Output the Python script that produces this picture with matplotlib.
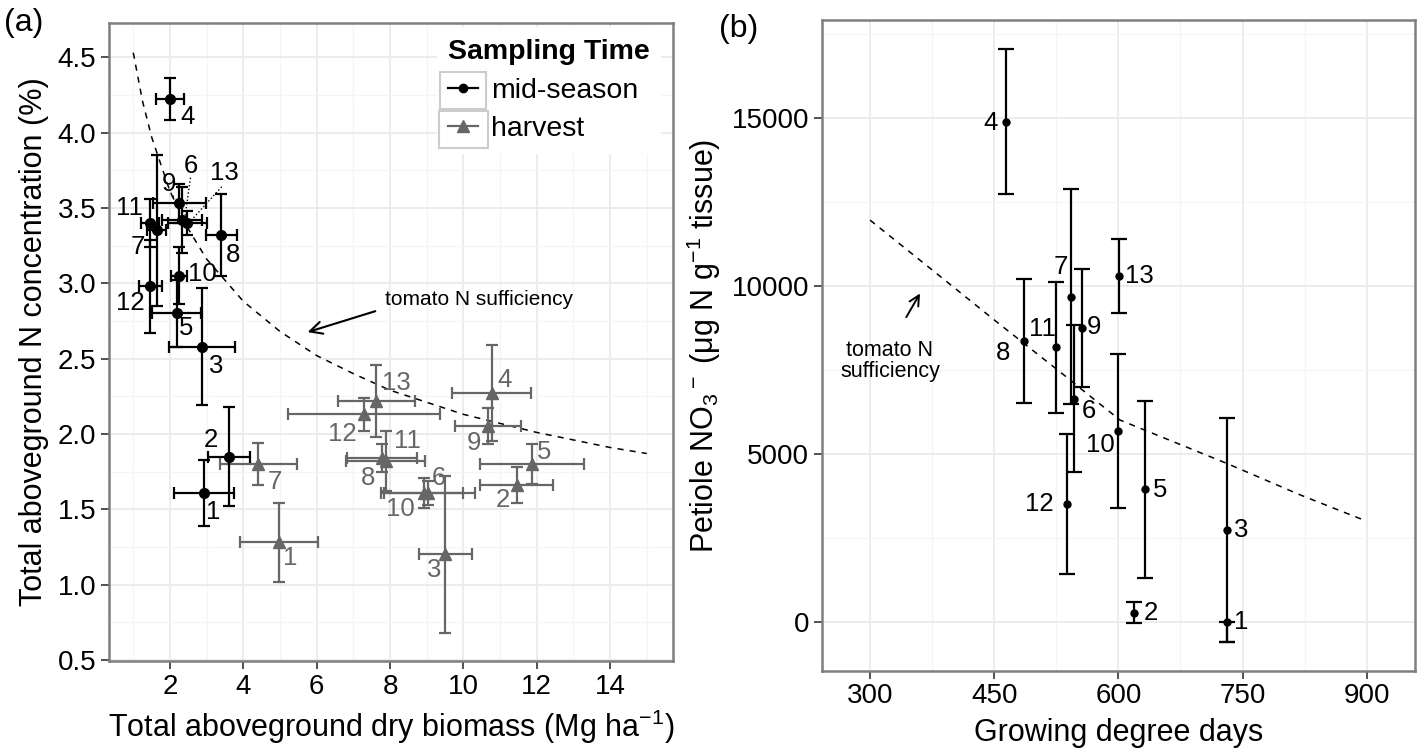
import numpy as np
import matplotlib.pyplot as plt
from matplotlib.lines import Line2D
from matplotlib.patches import Rectangle
from matplotlib.ticker import AutoMinorLocator

plt.rcParams['font.family'] = ['Liberation Sans', 'DejaVu Sans']
plt.rcParams['mathtext.fontset'] = 'custom'
plt.rcParams['mathtext.rm'] = 'Liberation Sans'
plt.rcParams['mathtext.it'] = 'Liberation Sans:italic'
plt.rcParams['mathtext.bf'] = 'Liberation Sans:bold'

# ---- panel (a) data: biomass (Mg/ha) vs N concentration (%) ----
mid_id = [1, 2, 3, 4, 5, 6, 7, 8, 9, 10, 11, 12, 13]
mid_x = [2.93, 3.62, 2.88, 2.01, 2.18, 2.32, 1.64, 3.40, 2.25, 2.25, 1.46, 1.46, 2.47]
mid_xe = [0.82, 0.57, 0.90, 0.38, 0.66, 0.55, 0.26, 0.42, 0.72, 0.21, 0.25, 0.31, 0.53]
mid_y = [1.61, 1.85, 2.58, 4.22, 2.80, 3.42, 3.35, 3.32, 3.53, 3.05, 3.40, 2.98, 3.40]
mid_ye = [0.22, 0.33, 0.39, 0.14, 0.22, 0.22, 0.50, 0.27, 0.13, 0.19, 0.16, 0.31, 0.08]
mid_lx = [3.18, 3.11, 3.27, 2.47, 2.45, 2.57, 1.11, 3.72, 1.98, 2.88, 0.90, 0.93, 3.47]
mid_ly = [1.48, 1.96, 2.45, 4.10, 2.70, 3.78, 3.24, 3.19, 3.66, 3.06, 3.50, 2.87, 3.73]

hv_id = [1, 2, 3, 4, 5, 6, 7, 8, 9, 10, 11, 12, 13]
hv_x = [4.97, 11.45, 9.51, 10.77, 11.87, 9.04, 4.41, 7.78, 10.67, 8.92, 7.88, 7.29, 7.63]
hv_xe = [1.06, 1.00, 0.72, 1.07, 1.42, 1.28, 1.05, 0.96, 0.91, 1.08, 1.07, 2.06, 1.05]
hv_y = [1.28, 1.66, 1.20, 2.27, 1.80, 1.61, 1.80, 1.84, 2.05, 1.61, 1.82, 2.13, 2.22]
hv_ye = [0.26, 0.12, 0.52, 0.32, 0.13, 0.08, 0.14, 0.09, 0.12, 0.10, 0.20, 0.11, 0.24]
hv_lx = [5.27, 11.08, 9.20, 11.13, 12.19, 9.32, 4.86, 7.41, 10.29, 8.29, 8.47, 6.71, 8.18]
hv_ly = [1.18, 1.56, 1.10, 2.36, 1.88, 1.71, 1.68, 1.71, 1.94, 1.50, 1.95, 2.00, 2.34]

# tomato N sufficiency curve
crit_x = [1.0, 1.25, 1.5, 2.0, 2.5, 3.0, 4.0, 5.0, 6.0, 7.0, 8.0, 9.0, 10.0, 11.0, 12.0, 13.0, 14.0, 15.0]
crit_y = [4.53, 4.21, 3.97, 3.61, 3.36, 3.16, 2.88, 2.68, 2.52, 2.40, 2.29, 2.21, 2.13, 2.07, 2.01, 1.96, 1.91, 1.87]

# ---- panel (b) data: GDD vs petiole nitrate ----
pet_id = [1, 2, 3, 4, 5, 6, 7, 8, 9, 10, 11, 12, 13]
pet_x = [731, 619, 731, 464, 632, 546, 543, 486, 556, 600, 525, 538, 601]
pet_y = [0, 280, 2740, 14890, 3950, 6650, 9680, 8370, 8740, 5680, 8180, 3510, 10300]
pet_lo = [590, 310, 3340, 2150, 2640, 2200, 3200, 1840, 1760, 2290, 1950, 2080, 1090]
pet_hi = [0, 310, 3340, 2150, 2640, 2200, 3200, 1840, 1760, 2290, 1950, 2080, 1090]
pet_lx = [748, 639, 748, 445, 651, 564, 530, 461, 571, 578, 508, 504, 625]
pet_ly = [0, 260, 2740, 14860, 3930, 6290, 10570, 8020, 8770, 5270, 8710, 3510, 10300]

suff_x = [300, 385, 450, 542, 554, 602, 681, 731, 820, 900]
suff_y = [11960, 10280, 8990, 7200, 6955, 6010, 5220, 4720, 3780, 3000]

grey = '#666666'
fig = plt.figure(figsize=(14.21, 7.51), dpi=100)
ax1 = fig.add_axes([0.0765, 0.1198, 0.397, 0.850])
ax2 = fig.add_axes([0.5783, 0.1069, 0.4175, 0.8665])


def style(ax):
    ax.xaxis.set_minor_locator(AutoMinorLocator(2))
    ax.yaxis.set_minor_locator(AutoMinorLocator(2))
    ax.grid(which='major', color='#EBEBEB', lw=1.3)
    ax.grid(which='minor', color='#F5F5F5', lw=0.9)
    ax.set_axisbelow(True)
    ax.tick_params(which='major', direction='out', length=6, width=1.2,
                   color='#333333', labelsize=20, pad=3)
    ax.tick_params(which='minor', length=0)
    for s in ax.spines.values():
        s.set_color('#7f7f7f')
        s.set_linewidth(1.8)


# ---- panel (a) ----
style(ax1)
ax1.plot(crit_x, crit_y, ls=(0, (4, 4)), color='black', lw=1.1)
ax1.errorbar(hv_x, hv_y, xerr=hv_xe, yerr=hv_ye, fmt='^', color=grey,
             ms=9, elinewidth=1.6, capsize=4, capthick=1.6)
ax1.errorbar(mid_x, mid_y, xerr=mid_xe, yerr=mid_ye, fmt='o', color='black',
             ms=7, elinewidth=1.6, capsize=4, capthick=1.6)
for i, x, y in zip(hv_id, hv_lx, hv_ly):
    ax1.text(x, y, str(i), ha='center', va='center', fontsize=18.5, color=grey)
for i, x, y in zip(mid_id, mid_lx, mid_ly):
    ax1.text(x, y, str(i), ha='center', va='center', fontsize=18.5, color='black')
# dotted leaders for crowded labels
ax1.plot([2.56, 2.41], [3.70, 3.44], ls=':', color='black', lw=1)
ax1.plot([3.41, 2.59], [3.64, 3.42], ls=':', color='black', lw=1)
ax1.plot([2.02, 2.14], [3.60, 3.56], ls=':', color='black', lw=1)

ax1.annotate('', xy=(5.68, 2.67), xytext=(7.67, 2.82),
             arrowprops=dict(arrowstyle='->', color='black', lw=1.5, mutation_scale=22))
ax1.text(7.86, 2.89, 'tomato N sufficiency', ha='left', va='center', fontsize=15)

ax1.set_xlim(0.33, 15.71)
ax1.set_ylim(0.493, 4.729)
ax1.set_xticks([2, 4, 6, 8, 10, 12, 14])
ax1.set_yticks([0.5, 1.0, 1.5, 2.0, 2.5, 3.0, 3.5, 4.0, 4.5])
ax1.set_yticklabels(['0.5', '1.0', '1.5', '2.0', '2.5', '3.0', '3.5', '4.0', '4.5'])
ax1.set_xlabel('Total aboveground dry biomass (Mg ha$^{-1}$)', fontsize=22, labelpad=6)
ax1.set_ylabel('Total aboveground N concentration (%)', fontsize=22, labelpad=6)

handles = [Line2D([], [], color='black', marker='o', ms=6, lw=1.6),
           Line2D([], [], color=grey, marker='^', ms=8, lw=1.6)]
leg = ax1.legend(handles, ['mid-season', 'harvest'], title='Sampling Time',
                 loc='upper right', bbox_to_anchor=(1.005, 1.015), fontsize=20.5,
                 title_fontproperties={'weight': 'bold', 'size': 20.5},
                 frameon=True, facecolor='white', edgecolor='none', framealpha=1,
                 handlelength=1.05, handletextpad=0.45, labelspacing=0.45,
                 borderpad=0.4, alignment='left', fancybox=False)

# ---- panel (b) ----
style(ax2)
ax2.plot(suff_x, suff_y, ls=(0, (4, 4)), color='black', lw=1.1)
ax2.errorbar(pet_x, pet_y, yerr=[pet_lo, pet_hi], fmt='o', color='black',
             ms=5, elinewidth=1.6, capsize=6, capthick=1.6)
for i, x, y in zip(pet_id, pet_lx, pet_ly):
    ax2.text(x, y, str(i), ha='center', va='center', fontsize=18.5, color='black')
ax2.annotate('', xy=(362, 9850), xytext=(342, 9000),
             arrowprops=dict(arrowstyle='->', color='black', lw=1.4, mutation_scale=18))
ax2.text(324, 7770, 'tomato N\nsufficiency', ha='center', va='center',
         fontsize=15.5, linespacing=1.05)

ax2.set_xlim(241.6, 958.4)
ax2.set_ylim(-1449, 17917)
ax2.set_xticks([300, 450, 600, 750, 900])
ax2.set_yticks([0, 5000, 10000, 15000])
ax2.set_xlabel('Growing degree days', fontsize=22, labelpad=6)
ax2.set_ylabel('Petiole NO$_3$$^-$ (μg N g$^{-1}$ tissue)', fontsize=22, labelpad=6)

fig.text(0.003, 0.970, '(a)', fontsize=23, ha='left', va='center')
fig.text(0.506, 0.962, '(b)', fontsize=23, ha='left', va='center')

# grey key boxes around the legend symbols, like the ggplot legend keys
fig.canvas.draw()
renderer = fig.canvas.get_renderer()
for line, txt in zip(leg.get_lines(), leg.get_texts()):
    lb = line.get_window_extent(renderer)
    tb = txt.get_window_extent(renderer)
    cy = (tb.y0 + tb.y1) / 2
    box = Rectangle((lb.x0 - 4, cy - 18.5), lb.width + 8, 37, transform=None,
                    fill=False, edgecolor='#CCCCCC', lw=1.5, zorder=10)
    fig.add_artist(box)

fig.savefig('out.png', dpi=100)
